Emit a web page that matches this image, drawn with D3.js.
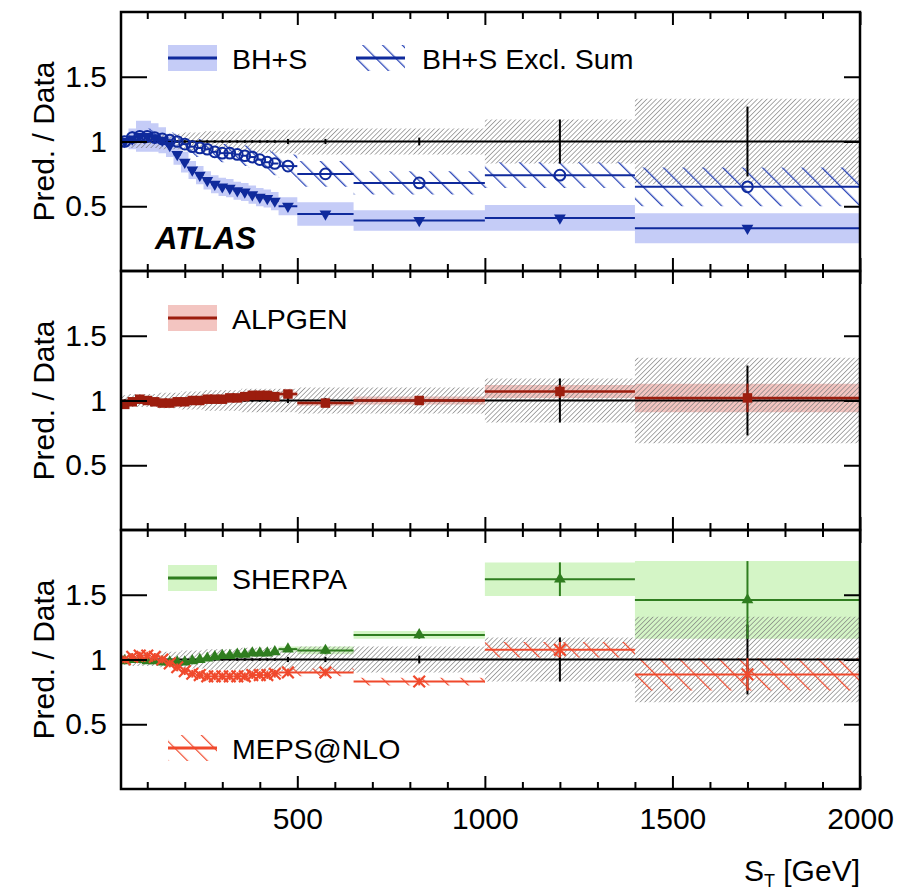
<!DOCTYPE html>
<html>
<head>
<meta charset="utf-8">
<script src="https://cdn.jsdelivr.net/npm/d3@7"></script>
<style>
  body { margin: 0; background: #fff; }
  svg { display: block; }
  text { font-family: "Liberation Sans", Arial, Helvetica, sans-serif; fill: #000; }
</style>
</head>
<body>
<svg id="chart" width="917" height="891"></svg>
<script>
// ---- S_T binning (GeV) ----
const binEdges = [30, 50, 70, 90, 110, 130, 150, 170, 190, 210, 230, 250, 270, 290, 310,
                  330, 350, 370, 390, 410, 430, 450, 500, 650, 1000, 1400, 2000];

// ---- data uncertainties (relative) ----
const dataStat = [0.01, 0.01, 0.01, 0.01, 0.01, 0.01, 0.01, 0.01, 0.01, 0.01, 0.01, 0.01, 0.01,
                  0.01, 0.01, 0.01, 0.01, 0.01, 0.01, 0.01, 0.01, 0.02, 0.02, 0.03, 0.17, 0.27];
const dataSyst = [0.04, 0.05, 0.05, 0.05, 0.05, 0.06, 0.06, 0.06, 0.07, 0.07, 0.07, 0.08, 0.08,
                  0.08, 0.08, 0.08, 0.09, 0.09, 0.09, 0.09, 0.09, 0.09, 0.10, 0.10, 0.17, 0.33];

// ---- predictions / data ----
const bhs     = [1.00, 1.02, 1.04, 1.04, 1.03, 1.01, 0.97, 0.90, 0.84, 0.78, 0.74, 0.70, 0.67,
                 0.65, 0.64, 0.62, 0.61, 0.59, 0.57, 0.56, 0.54, 0.50, 0.44, 0.39, 0.41, 0.33];
const bhsErr  = [0.04, 0.08, 0.12, 0.12, 0.11, 0.10, 0.09, 0.08, 0.08, 0.07, 0.07, 0.07, 0.07,
                 0.07, 0.07, 0.07, 0.07, 0.07, 0.07, 0.07, 0.07, 0.07, 0.09, 0.08, 0.10, 0.115];
const bhsExcl    = [1.00, 1.03, 1.04, 1.04, 1.03, 1.02, 1.01, 1.00, 0.98, 0.96, 0.95, 0.94, 0.92,
                    0.91, 0.91, 0.90, 0.89, 0.88, 0.86, 0.84, 0.83, 0.81, 0.75, 0.68, 0.74, 0.65];
const bhsExclErr = [0.03, 0.05, 0.06, 0.06, 0.06, 0.06, 0.06, 0.06, 0.06, 0.07, 0.07, 0.07, 0.07,
                    0.07, 0.08, 0.08, 0.08, 0.08, 0.08, 0.09, 0.09, 0.09, 0.10, 0.09, 0.10, 0.15];
const alpgen    = [0.97, 0.99, 1.01, 1.00, 0.99, 0.98, 0.98, 0.99, 0.99, 1.00, 1.00, 1.01, 1.01,
                   1.01, 1.02, 1.02, 1.03, 1.04, 1.04, 1.04, 1.03, 1.05, 0.98, 1.00, 1.07, 1.02];
const alpgenErr = [0.02, 0.02, 0.02, 0.02, 0.02, 0.02, 0.02, 0.02, 0.02, 0.02, 0.02, 0.02, 0.02,
                   0.02, 0.02, 0.02, 0.02, 0.02, 0.02, 0.02, 0.02, 0.02, 0.02, 0.03, 0.05, 0.11];
const sherpa    = [0.99, 1.00, 1.00, 0.99, 0.99, 0.98, 0.98, 0.98, 0.98, 0.99, 1.00, 1.01, 1.02,
                   1.03, 1.03, 1.04, 1.04, 1.05, 1.05, 1.05, 1.06, 1.08, 1.07, 1.19, 1.62, 1.46];
const sherpaErr = [0.02, 0.02, 0.02, 0.02, 0.02, 0.02, 0.02, 0.02, 0.02, 0.02, 0.02, 0.02, 0.02,
                   0.02, 0.02, 0.02, 0.02, 0.02, 0.02, 0.02, 0.02, 0.02, 0.03, 0.03, 0.13, 0.30];
const meps    = [1.00, 1.02, 1.03, 1.03, 1.02, 1.00, 0.97, 0.94, 0.91, 0.89, 0.88, 0.87, 0.87,
                 0.87, 0.87, 0.87, 0.87, 0.88, 0.88, 0.88, 0.89, 0.90, 0.90, 0.83, 1.075, 0.885];
const mepsErr = [0.03, 0.03, 0.03, 0.03, 0.03, 0.03, 0.03, 0.03, 0.03, 0.03, 0.03, 0.03, 0.03,
                 0.03, 0.03, 0.03, 0.03, 0.03, 0.03, 0.03, 0.03, 0.03, 0.03, 0.03, 0.06, 0.125];

// ---- axis ticks ----
const xMajorTicks = [500, 1000, 1500, 2000];
const xMinorTicks = [100, 200, 300, 400, 600, 700, 800, 900, 1100, 1200, 1300, 1400,
                     1600, 1700, 1800, 1900];
const yTicks = [0.5, 1, 1.5];
const yTickLabels = ["0.5", "1", "1.5"];

// ---- layout ----
const plotL = 121, plotR = 860;
const panelTops = [12, 271, 530];
const panelH = 259;

const svg = d3.select("#chart");
const defs = svg.append("defs");

function hatch(id, angle, spacing, color, width) {
  const p = defs.append("pattern")
    .attr("id", id).attr("patternUnits", "userSpaceOnUse")
    .attr("width", spacing).attr("height", spacing)
    .attr("patternTransform", `rotate(${angle})`);
  p.append("line").attr("x1", 0).attr("y1", -1).attr("x2", 0).attr("y2", spacing + 1)
    .attr("stroke", color).attr("stroke-width", width);
}
hatch("hatchData", 45, 3.4, "#7a7a7a", 1.3);
hatch("hatchBlue", -45, 14, "#2b46b8", 2.6);
hatch("hatchRed", -45, 14, "#f0492c", 2.4);

const x = d3.scaleLinear().domain([30, 2000]).range([plotL, plotR]);

const bins = d3.range(binEdges.length - 1).map(i => ({
  lo: binEdges[i], hi: binEdges[i + 1], c: (binEdges[i] + binEdges[i + 1]) / 2, i
}));

const C = {
  blue: "#0f2a9c", blueBand: "#c5ccf7",
  red: "#9c1d0e", redBand: "#f3c5c1",
  green: "#2f7d1f", greenBand: "#d4f5c6",
  orange: "#f0492c"
};

function bandPath(y, vals, errs) {
  const pts = [];
  bins.forEach(b => {
    pts.push({ x: b.lo, v: vals[b.i], e: errs[b.i] });
    pts.push({ x: b.hi, v: vals[b.i], e: errs[b.i] });
  });
  return d3.area().x(d => x(d.x)).y0(d => y(d.v - d.e)).y1(d => y(d.v + d.e))(pts);
}
// horizontal bin-width bars, one per bin
function binBars(p, vals, color, w) {
  p.g.selectAll(null).data(bins).join("line")
    .attr("x1", d => x(d.lo)).attr("x2", d => x(d.hi))
    .attr("y1", d => p.y(vals[d.i])).attr("y2", d => p.y(vals[d.i]))
    .attr("stroke", color).attr("stroke-width", w);
}

function drawPanel(k) {
  const top = panelTops[k];
  const y = d3.scaleLinear().domain([0, 2]).range([top + panelH, top]);
  const clipId = "clip" + k;
  defs.append("clipPath").attr("id", clipId).append("rect")
    .attr("x", plotL).attr("y", top).attr("width", plotR - plotL).attr("height", panelH);
  const g = svg.append("g").attr("clip-path", `url(#${clipId})`);
  return { y, g, top };
}

function dataLayer(p) {
  p.g.append("path").attr("d", bandPath(p.y, bins.map(() => 1), dataSyst))
    .attr("fill", "url(#hatchData)");
}
function dataLine(p) {
  p.g.append("line").attr("x1", plotL).attr("x2", plotR)
    .attr("y1", p.y(1)).attr("y2", p.y(1)).attr("stroke", "#000").attr("stroke-width", 2);
  p.g.selectAll(null).data(bins).join("line")
    .attr("x1", d => x(d.c)).attr("x2", d => x(d.c))
    .attr("y1", d => p.y(1 - dataStat[d.i])).attr("y2", d => p.y(1 + dataStat[d.i]))
    .attr("stroke", "#000").attr("stroke-width", 2);
}
function errBars(p, vals, errs, color, w) {
  p.g.selectAll(null).data(bins).join("line")
    .attr("x1", d => x(d.c)).attr("x2", d => x(d.c))
    .attr("y1", d => p.y(vals[d.i] - errs[d.i])).attr("y2", d => p.y(vals[d.i] + errs[d.i]))
    .attr("stroke", color).attr("stroke-width", w);
}
function markers(p, vals, type, color, size) {
  const sel = p.g.selectAll(null).data(bins).join("path")
    .attr("transform", d => `translate(${x(d.c)},${p.y(vals[d.i])})${type === "tdown" ? " rotate(180)" : ""}`);
  if (type === "circle") {
    sel.attr("d", d3.symbol(d3.symbolCircle, size)).attr("fill", "none")
      .attr("stroke", color).attr("stroke-width", 2);
  } else if (type === "x") {
    sel.attr("d", d3.symbol(d3.symbolX, size)).attr("fill", "none")
      .attr("stroke", color).attr("stroke-width", 2.2);
  } else {
    const s = type === "square" ? d3.symbolSquare : d3.symbolTriangle;
    sel.attr("d", d3.symbol(s, size)).attr("fill", color);
  }
}

function frameAndAxes(p, showX) {
  const { y, top } = p;
  const ax = svg.append("g");
  const xb = ax.append("g").attr("transform", `translate(0,${top + panelH})`);
  xb.call(d3.axisBottom(x).tickValues(xMinorTicks).tickSize(-7).tickFormat(""));
  xb.call(g => g.select(".domain").remove());
  const xb2 = ax.append("g").attr("transform", `translate(0,${top + panelH})`);
  xb2.call(d3.axisBottom(x).tickValues(xMajorTicks).tickSize(-13).tickPadding(19)
    .tickFormat(d => showX ? d : ""));
  xb2.call(g => g.select(".domain").remove());
  const xt = ax.append("g").attr("transform", `translate(0,${top})`);
  xt.call(d3.axisTop(x).tickValues(xMinorTicks).tickSize(-7).tickFormat(""));
  xt.call(g => g.select(".domain").remove());
  const xt2 = ax.append("g").attr("transform", `translate(0,${top})`);
  xt2.call(d3.axisTop(x).tickValues(xMajorTicks).tickSize(-13).tickFormat(""));
  xt2.call(g => g.select(".domain").remove());
  const yl = ax.append("g").attr("transform", `translate(${plotL},0)`);
  yl.call(d3.axisLeft(y).tickValues(yTicks).tickSize(-26).tickPadding(14)
    .tickFormat((d, i) => yTickLabels[i]));
  yl.call(g => g.select(".domain").remove());
  const yr = ax.append("g").attr("transform", `translate(${plotR},0)`);
  yr.call(d3.axisRight(y).tickValues(yTicks).tickSize(-16).tickFormat(""));
  yr.call(g => g.select(".domain").remove());
  ax.selectAll(".tick line").attr("stroke", "#000").attr("stroke-width", 2);
  ax.selectAll(".tick text").attr("font-size", 30)
    .attr("font-family", '"Liberation Sans", Arial, sans-serif').attr("fill", "#000");
  svg.append("rect").attr("x", plotL).attr("y", top).attr("width", plotR - plotL)
    .attr("height", panelH).attr("fill", "none").attr("stroke", "#000").attr("stroke-width", 2.5);
  svg.append("text")
    .attr("transform", `translate(54,${top + panelH / 2}) rotate(-90)`)
    .attr("text-anchor", "middle").attr("font-size", 30).text("Pred. / Data");
}

function legendEntry(lx, ly, fill, line, label, tx) {
  const g = svg.append("g");
  g.append("rect").attr("x", lx).attr("y", ly - 13).attr("width", 49).attr("height", 26)
    .attr("fill", fill);
  g.append("line").attr("x1", lx).attr("x2", lx + 49).attr("y1", ly).attr("y2", ly)
    .attr("stroke", line).attr("stroke-width", 3);
  g.append("text").attr("x", tx).attr("y", ly + 10.5).attr("font-size", 28.5).text(label);
}

// ---- panel 1: BlackHat+Sherpa ----
{
  const p = drawPanel(0);
  p.g.append("path").attr("d", bandPath(p.y, bhs, bhsErr)).attr("fill", C.blueBand);
  dataLayer(p);
  p.g.append("path").attr("d", bandPath(p.y, bhsExcl, bhsExclErr)).attr("fill", "url(#hatchBlue)");
  dataLine(p);
  binBars(p, bhsExcl, C.blue, 2);
  binBars(p, bhs, C.blue, 2);
  markers(p, bhsExcl, "circle", C.blue, 90);
  markers(p, bhs, "tdown", C.blue, 60);
  frameAndAxes(p, false);
  legendEntry(168, 58, C.blueBand, C.blue, "BH+S", 232);
  legendEntry(356, 58, "url(#hatchBlue)", C.blue, "BH+S Excl. Sum", 422);
  svg.append("text").attr("x", 155).attr("y", 249).attr("font-size", 31)
    .attr("font-weight", "bold").attr("font-style", "italic").text("ATLAS");
}

// ---- panel 2: ALPGEN ----
{
  const p = drawPanel(1);
  p.g.append("path").attr("d", bandPath(p.y, alpgen, alpgenErr)).attr("fill", C.redBand);
  dataLayer(p);
  dataLine(p);
  binBars(p, alpgen, C.red, 2.5);
  errBars(p, alpgen, alpgenErr, C.red, 2);
  markers(p, alpgen, "square", C.red, 90);
  frameAndAxes(p, false);
  legendEntry(168, 318, C.redBand, C.red, "ALPGEN", 232);
}

// ---- panel 3: SHERPA and MEPS@NLO ----
{
  const p = drawPanel(2);
  p.g.append("path").attr("d", bandPath(p.y, sherpa, sherpaErr)).attr("fill", C.greenBand);
  dataLayer(p);
  p.g.append("path").attr("d", bandPath(p.y, meps, mepsErr)).attr("fill", "url(#hatchRed)");
  dataLine(p);
  binBars(p, sherpa, C.green, 2);
  errBars(p, sherpa, sherpaErr, C.green, 2);
  markers(p, sherpa, "tup", C.green, 60);
  binBars(p, meps, C.orange, 2);
  errBars(p, meps, mepsErr, C.orange, 2);
  markers(p, meps, "x", C.orange, 90);
  frameAndAxes(p, true);
  legendEntry(168, 578, C.greenBand, C.green, "SHERPA", 232);
  legendEntry(168, 748, "url(#hatchRed)", C.orange, "MEPS@NLO", 232);
}

// ---- x axis title ----
{
  const t = svg.append("text").attr("x", 860).attr("y", 881).attr("text-anchor", "end")
    .attr("font-size", 30);
  t.append("tspan").text("S");
  t.append("tspan").attr("font-size", 18).attr("dy", 6).text("T");
  t.append("tspan").attr("dy", -6).text(" [GeV]");
}
</script>
</body>
</html>
